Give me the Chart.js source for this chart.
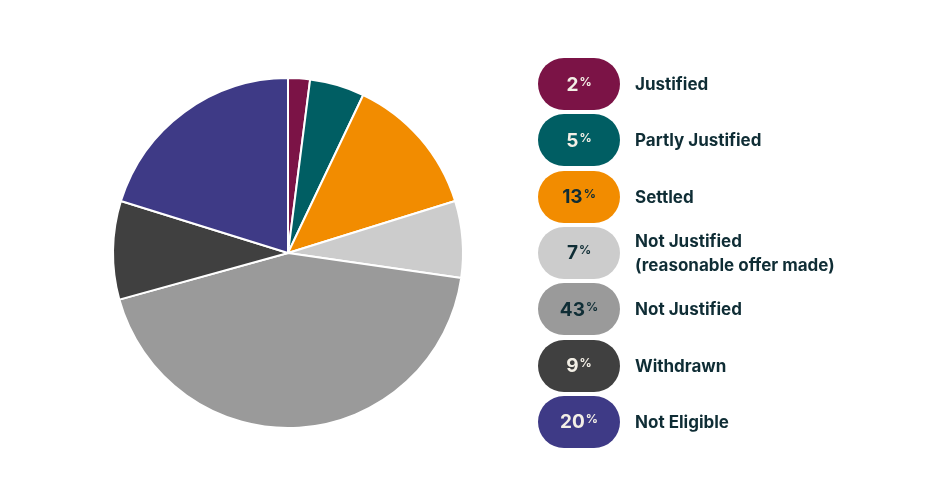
<!DOCTYPE html>
<html><head><meta charset="utf-8">
<script src="https://cdn.jsdelivr.net/npm/chart.js@4"></script>
<style>
body{margin:0;background:#fff;font-family:Inter,"Noto Sans",sans-serif;}
#wrap{position:relative;width:946px;height:500px;}
.item{position:absolute;left:538px;height:52px;display:flex;align-items:center;}
.pill{width:82px;height:52px;border-radius:26px;display:flex;align-items:center;justify-content:center;font-weight:700;font-size:19px;}
.pill sup{font-size:12px;vertical-align:top;position:relative;top:-3px;margin-left:1px;}
.lab{margin-left:15px;font-weight:700;font-size:17px;color:#0f2d35;line-height:24px;}
</style></head><body>
<div id="wrap"><canvas id="c" width="946" height="500"></canvas></div>
<script>
const categories=["Justified","Partly Justified","Settled","Not Justified\n(reasonable offer made)","Not Justified","Withdrawn","Not Eligible"];
const values=[2,5,13,7,43,9,20];
const colors=["#7b1346","#005e63","#f28c00","#cccccc","#9a9a9a","#404040","#3e3a86"];
const textColors=["#f3efe6","#f3efe6","#0f2d35","#0f2d35","#0f2d35","#f3efe6","#f3efe6"];
new Chart(document.getElementById('c'),{type:'pie',
data:{labels:categories,datasets:[{data:values,backgroundColor:colors,borderColor:'#fff',borderWidth:2}]},
options:{responsive:false,animation:false,layout:{padding:{left:112,right:482,top:77,bottom:71}},
plugins:{legend:{display:false},tooltip:{enabled:false}}}});
const wrap=document.getElementById('wrap');
categories.forEach((c,i)=>{
 const d=document.createElement('div');d.className='item';d.style.top=(58+i*56.3)+'px';
 d.innerHTML=`<div class="pill" style="background:${colors[i]};color:${textColors[i]}">${values[i]}<sup>%</sup></div><div class="lab">${c.replace('\n','<br>')}</div>`;
 wrap.appendChild(d);
});
</script></body></html>
